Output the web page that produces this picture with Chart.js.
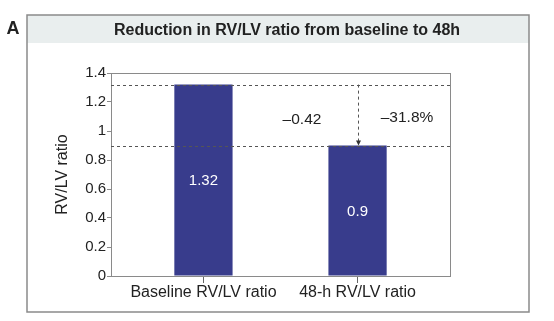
<!DOCTYPE html>
<html>
<head>
<meta charset="utf-8">
<script src="https://cdn.jsdelivr.net/npm/chart.js@4/dist/chart.umd.min.js"></script>
<style>
  html, body { margin: 0; padding: 0; background: #fff; }
  #wrap { width: 554px; height: 321px; }
</style>
</head>
<body>
<div id="wrap"><canvas id="ratio-chart" width="554" height="321"></canvas></div>
<script>
const categories = ['Baseline RV/LV ratio', '48-h RV/LV ratio'];
const ratioValues = [1.32, 0.9];
const yTicks = [0, 0.2, 0.4, 0.6, 0.8, 1, 1.2, 1.4];

const panelTitle = 'Reduction in RV/LV ratio from baseline to 48h';
const panelLetter = 'A';

const FONT = '"Liberation Sans", Arial, Helvetica, sans-serif';
const BAR_COLOR = '#383c8c';
const TEXT = '#222';
const FRAME = '#8a8a8a';

function fmtDash(n, digits) {
  return (n < 0 ? '\u2013' : '') + Math.abs(n).toFixed(digits);
}

// outer panel, header strip and letter
const panelFrame = {
  id: 'panelFrame',
  beforeDraw(chart) {
    const ctx = chart.ctx;
    ctx.save();
    ctx.fillStyle = '#fff';
    ctx.fillRect(0, 0, chart.width, chart.height);
    ctx.fillStyle = '#e9eeee';
    ctx.fillRect(27, 15, 502, 28);
    ctx.strokeStyle = FRAME;
    ctx.lineWidth = 1.5;
    ctx.strokeRect(27, 15, 502, 297);
    ctx.fillStyle = TEXT;
    ctx.font = 'bold 16px ' + FONT;
    ctx.textAlign = 'center';
    ctx.textBaseline = 'middle';
    ctx.fillText(panelTitle, 287, 31);
    ctx.font = 'bold 18px ' + FONT;
    ctx.fillText(panelLetter, 13, 29);
    ctx.restore();
  },
  afterDatasetsDraw(chart) {
    const { ctx, chartArea: a, scales } = chart;
    const y = scales.y;
    const meta = chart.getDatasetMeta(0);
    ctx.save();

    // plot frame
    ctx.strokeStyle = FRAME;
    ctx.lineWidth = 1;
    ctx.strokeRect(a.left + 0.5, a.top + 0.5, a.right - a.left, a.bottom - a.top);

    // reference lines at each bar top
    ctx.strokeStyle = '#555';
    ctx.setLineDash([3, 3]);
    ratioValues.forEach((v) => {
      const py = Math.round(y.getPixelForValue(v)) + 0.5;
      ctx.beginPath();
      ctx.moveTo(a.left, py);
      ctx.lineTo(a.right, py);
      ctx.stroke();
    });

    // drop arrow from baseline level to 48-h level
    const ax = Math.round(meta.data[1].x) + 0.5;
    const y0 = y.getPixelForValue(ratioValues[0]);
    const y1 = y.getPixelForValue(ratioValues[1]);
    ctx.beginPath();
    ctx.moveTo(ax, y0);
    ctx.lineTo(ax, y1 - 4);
    ctx.stroke();
    ctx.setLineDash([]);
    ctx.fillStyle = '#333';
    ctx.beginPath();
    ctx.moveTo(ax - 2.5, y1 - 5);
    ctx.lineTo(ax + 2.5, y1 - 5);
    ctx.lineTo(ax, y1);
    ctx.closePath();
    ctx.fill();

    // change annotations
    const diff = ratioValues[1] - ratioValues[0];
    const pct = diff / ratioValues[0] * 100;
    ctx.fillStyle = TEXT;
    ctx.font = '15.5px ' + FONT;
    ctx.textAlign = 'center';
    ctx.textBaseline = 'middle';
    ctx.fillText(fmtDash(diff, 2), 302, 120);
    ctx.fillText(fmtDash(pct, 1) + '%', 407, 118);

    // value inside each bar
    ctx.fillStyle = '#fff';
    ctx.font = '15px ' + FONT;
    meta.data.forEach((bar, i) => {
      const mid = (bar.y + bar.base) / 2;
      ctx.fillText(String(ratioValues[i]), bar.x, mid + 1);
    });
    ctx.restore();
  },
};

new Chart(document.getElementById('ratio-chart'), {
  type: 'bar',
  data: {
    datasets: [
      {
        data: ratioValues.map((v, i) => ({ x: i, y: v })),
        backgroundColor: BAR_COLOR,
        borderWidth: 0,
        barPercentage: 0.378,
        categoryPercentage: 1,
      },
    ],
  },
  options: {
    responsive: false,
    animation: false,
    devicePixelRatio: 1,
    layout: { padding: { left: 40, right: 104, top: 73, bottom: 19 } },
    plugins: {
      legend: { display: false },
      tooltip: { enabled: false },
    },
    scales: {
      x: {
        type: 'linear',
        min: -0.6,
        max: 1.6,
        offset: false,
        afterFit(scale) { scale.height = 26; },
        afterBuildTicks(scale) { scale.ticks = categories.map((c, i) => ({ value: i })); },
        grid: {
          offset: false,
          drawOnChartArea: false,
          drawTicks: true,
          tickLength: 7,
          color: '#666',
        },
        border: { display: true, color: FRAME },
        ticks: {
          color: TEXT,
          font: { family: FONT, size: 16 },
          padding: 0,
          maxRotation: 0,
          autoSkip: false,
          callback: (v) => categories[v],
        },
      },
      y: {
        min: 0,
        max: 1.4,
        afterFit(scale) { scale.width = 71; },
        afterBuildTicks(scale) { scale.ticks = yTicks.map((v) => ({ value: v })); },
        grid: {
          drawOnChartArea: false,
          drawTicks: true,
          tickLength: 4,
          color: FRAME,
        },
        border: { display: true, color: FRAME },
        ticks: {
          color: TEXT,
          font: { family: FONT, size: 15 },
          padding: 1,
          callback: (v) => String(Math.round(v * 10) / 10),
        },
        title: {
          display: true,
          text: 'RV/LV ratio',
          color: TEXT,
          font: { family: FONT, size: 16 },
          padding: { top: 13, bottom: 0 },
        },
      },
    },
  },
  plugins: [panelFrame],
});
</script>
</body>
</html>
